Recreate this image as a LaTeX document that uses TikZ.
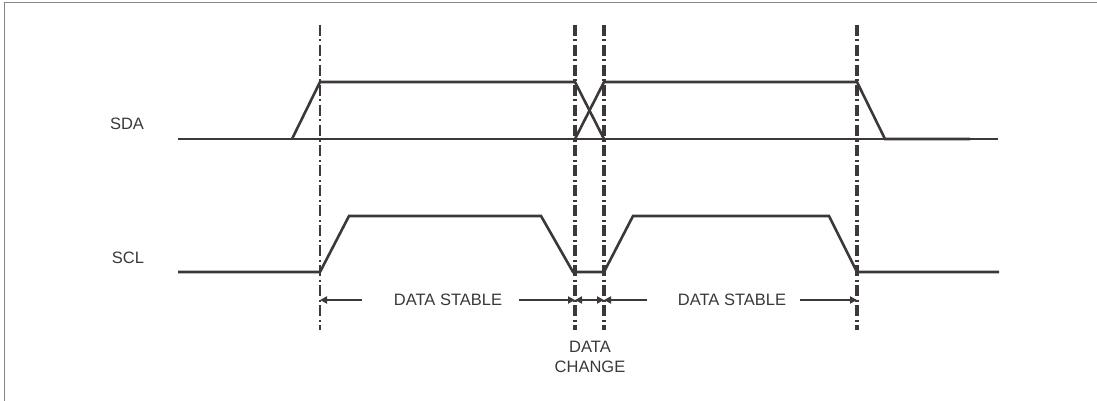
\documentclass[tikz,border=0pt]{standalone}
\usepackage{fontspec}
\setmainfont{Liberation Sans}
\usetikzlibrary{arrows.meta}
\definecolor{ink}{HTML}{3D3838}
\definecolor{frame}{HTML}{8A8585}
\begin{document}
\begin{tikzpicture}[x=1pt,y=-1pt,
  wave/.style={draw=ink,line width=2.6pt,line join=miter},
  guide/.style={draw=ink,line width=2.2pt,dash pattern=on 11pt off 3.5pt on 2pt off 3.5pt},
  guidethick/.style={guide,line width=3.4pt},
  lbl/.style={text=ink,font=\fontsize{16.5}{19}\selectfont,inner sep=0pt},
  dim/.style={draw=ink,line width=1.8pt},
  tip/.style={-{Triangle[length=7pt,width=7pt]}}]
\useasboundingbox (0,0) rectangle (1097,401);
\fill[white] (0,0) rectangle (1097,401);
\draw[frame,line width=1.5pt] (4.5,401) -- (4.5,2.5) -- (1097,2.5);
% guide lines
\coordinate (g1t) at (320,25);  \coordinate (g1b) at (320,330);
\coordinate (g2t) at (575,25);  \coordinate (g2b) at (575,330);
\coordinate (g3t) at (604,25);  \coordinate (g3b) at (604,330);
\coordinate (g4t) at (857,25);  \coordinate (g4b) at (857,330);
\draw[guide] (g1t) -- (g1b);
\draw[guidethick] (g2t) -- (g2b);
\draw[guidethick] (g3t) -- (g3b);
\draw[guidethick] (g4t) -- (g4b);
% labels
\node[lbl] (sda) at (127,124) {SDA};
\node[lbl] (scl) at (128,258) {SCL};
% SDA waveform
\draw[wave] (178,139) -- (998,139);
\draw[wave] (292,139) -- (320,82) -- (575,82) -- (604,139);
\draw[wave] (575,139) -- (604,82) -- (857,82) -- (885,139) -- (970,139);
% SCL waveform
\draw[wave] (178,272) -- (320,272) -- (349,216) -- (541,216) -- (573,272) -- (604,272)
  -- (633,216) -- (829,216) -- (857,272) -- (999,272);
% dimension row
\node[lbl] (ds1) at (448,300) {DATA STABLE};
\node[lbl] (ds2) at (732,300) {DATA STABLE};
\node[lbl,align=center,font=\fontsize{16.5}{19.5}\selectfont] (dc) at (590,357) {DATA\\CHANGE};
\coordinate (a1) at (320,300);
\coordinate (a2) at (575,300);
\coordinate (a3) at (604,300);
\coordinate (a4) at (857,300);
\coordinate (l1) at (362,300);
\coordinate (r1) at (519,300);
\coordinate (r2) at (647,300);
\coordinate (l4) at (800,300);
\draw[dim,tip] (l1) -- (a1);
\draw[dim,tip] (r1) -- (a2);
\draw[dim,{Triangle[length=7pt,width=7pt]}-{Triangle[length=7pt,width=7pt]}] (a2) -- (a3);
\draw[dim,tip] (r2) -- (a3);
\draw[dim,tip] (l4) -- (a4);
\end{tikzpicture}
\end{document}
